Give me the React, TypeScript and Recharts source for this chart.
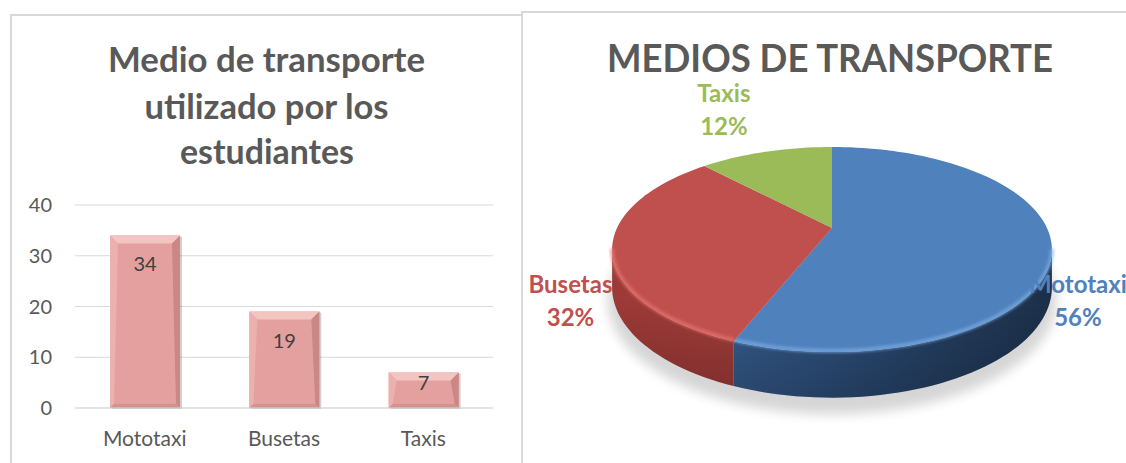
import { BarChart, Bar, XAxis, YAxis, CartesianGrid, LabelList, PieChart, Pie } from 'recharts'

const categories = ['Mototaxi', 'Busetas', 'Taxis']
const students = [34, 19, 7]
const shares = [56, 32, 12]
const yTicks = [0, 10, 20, 30, 40]
const sliceColors = ['#4F81BD', '#C0504D', '#9BBB59']
const wallColors = [
  ['#3f6aa0', '#2c4d78', '#1b2e47'],
  ['#9d3a37', '#a53f3c', '#b44845'],
  ['#7f9a47', '#7f9a47', '#7f9a47'],
]
const rimColors = ['#7eaee6', '#e87773', '#bcd884']

const barData = categories.map((name, i) => ({ name, value: students[i] }))
const pieData = categories.map((name, i) => ({ name, value: shares[i] }))

const FONT = 'Lato, "Open Sans", sans-serif'

// 3d look of the pie: perspective, squash, wall height
const Q = 0.21
const K = 0.456
const H = 36
const FRONT = (Math.asin(Q) * 180) / Math.PI

const BevelBar = (props: any) => {
  const { x, y, width: w, height: h } = props
  if (!h || h <= 0) return null
  const t = Math.min(8, h / 4)
  const s = 4
  return (
    <g>
      <rect x={x + 2} y={y + 1} width={w} height={h} fill="#6b5050" opacity={0.28} />
      <rect x={x} y={y} width={w} height={h} fill="#E4A09E" />
      <polygon points={`${x},${y} ${x + w},${y} ${x + w - t},${y + t} ${x + t},${y + t}`} fill="#F2C4C2" />
      <polygon points={`${x},${y} ${x + t},${y + t} ${x + s},${y + h - s} ${x},${y + h}`} fill="#EAB1AF" />
      <polygon points={`${x + w},${y} ${x + w},${y + h} ${x + w - s},${y + h - s} ${x + w - t},${y + t}`} fill="#C98785" />
      <polygon points={`${x},${y + h} ${x + w},${y + h} ${x + w - s},${y + h - s} ${x + s},${y + h - s}`} fill="#D39290" />
    </g>
  )
}

const BarValue = (props: any) => {
  const { x, y, width, height, value } = props
  const off = Math.min(29, height - 25.5)
  return (
    <text x={x + width / 2} y={y + off + 7} textAnchor="middle" fontFamily={FONT} fontSize={20} fill="#404040">
      {value}
    </text>
  )
}

function proj(cx: number, cy: number, R: number, deg: number, r: number, dz = 0) {
  const a = (deg * Math.PI) / 180
  const s = Math.sin(a)
  const w = 1 + Q * (r / R) * s
  return { x: cx + (r * Math.cos(a)) / w, y: cy - (K * r * s) / w + dz / w }
}

function arc(cx: number, cy: number, R: number, a0: number, a1: number, dz = 0) {
  const n = Math.max(2, Math.ceil(Math.abs(a1 - a0) / 2))
  const pts = []
  for (let i = 0; i <= n; i++) pts.push(proj(cx, cy, R, a0 + ((a1 - a0) * i) / n, R, dz))
  return pts
}

const toPath = (pts: { x: number; y: number }[], close = true) =>
  pts.map((p, i) => `${i ? 'L' : 'M'}${p.x.toFixed(2)},${p.y.toFixed(2)}`).join(' ') + (close ? ' Z' : '')

const renderSlice = (props: any) => {
  const { cx, cy, outerRadius: R, startAngle, endAngle, midAngle, percent, index, name } = props
  const color = sliceColors[index]
  const lo = Math.min(startAngle, endAngle)
  const hi = Math.max(startAngle, endAngle)

  const walls: [number, number][] = []
  for (let k = -2; k <= 1; k++) {
    const s = Math.max(lo, 180 + FRONT + 360 * k)
    const e = Math.min(hi, 360 - FRONT + 360 * k)
    if (e > s) walls.push([s, e])
  }

  // label sits outside the rim, pushed down by the wall on the front side
  const m = proj(cx, cy, R, midAngle, R)
  const ux = (m.x - cx) / Math.hypot(m.x - cx, m.y - cy)
  const uy = (m.y - cy) / Math.hypot(m.x - cx, m.y - cy)
  const lx = m.x + ux * 34 + uy * 14 - 9
  const ly = m.y + uy * 60 + 1.12 * H * (1 - Math.sin((midAngle * Math.PI) / 180)) + 1

  return (
    <g key={`slice-${index}`}>
      {index === 0 && (
        <g>
          <defs>
            <filter id="pieShadow" x="-20%" y="-20%" width="140%" height="140%">
              <feGaussianBlur stdDeviation="6" />
            </filter>
            <filter id="rimBlur" x="-10%" y="-10%" width="120%" height="120%">
              <feGaussianBlur stdDeviation="1.5" />
            </filter>
            {wallColors.map((c, i) => (
              <linearGradient key={i} id={`wall${i}`} gradientUnits="userSpaceOnUse" x1={cx - R * 1.05} x2={cx + R * 1.05} y1={0} y2={0}>
                <stop offset="0" stopColor={c[0]} />
                <stop offset="0.5" stopColor={c[1]} />
                <stop offset="1" stopColor={c[2]} />
              </linearGradient>
            ))}
            <linearGradient id="wallShade" x1="0" x2="0" y1="0" y2="1">
              <stop offset="0" stopColor="#ffffff" stopOpacity={0.12} />
              <stop offset="0.35" stopColor="#000000" stopOpacity={0} />
              <stop offset="1" stopColor="#000000" stopOpacity={0.2} />
            </linearGradient>
          </defs>
          <path d={toPath(arc(cx, cy + 4, R * 1.02, 0, 360, H + 8))} fill="#000" opacity={0.16} filter="url(#pieShadow)" />
        </g>
      )}
      {walls.map(([s, e], i) => {
        const pts = [...arc(cx, cy, R, s, e), ...arc(cx, cy, R, e, s, H)]
        return (
          <g key={i}>
            <path d={toPath(pts)} fill={`url(#wall${index})`} />
            <path d={toPath(pts)} fill="url(#wallShade)" />
          </g>
        )
      })}
      <path d={toPath([{ x: cx, y: cy }, ...arc(cx, cy, R, startAngle, endAngle)])} fill={color} />
      {walls.map(([s, e], i) => (
        <path
          key={`rim${i}`}
          d={toPath(arc(cx, cy, R, s, e, -1), false)}
          fill="none"
          stroke={rimColors[index]}
          strokeWidth={4}
          opacity={0.7}
          filter="url(#rimBlur)"
        />
      ))}
      <text textAnchor="middle" fontFamily={FONT} fontWeight={700} fontSize={24} fill={color}>
        <tspan x={lx} y={ly - 8}>{name}</tspan>
        <tspan x={lx} y={ly + 25}>{`${Math.round(percent * 100)}%`}</tspan>
      </text>
    </g>
  )
}

export default function App() {
  return (
    <div style={{ position: 'absolute', left: 0, top: 0, width: 1126, height: 463, background: '#fff', overflow: 'hidden' }}>
      <div style={{ position: 'absolute', left: 10, top: 14, width: 513, height: 500, border: '2px solid #d9d9d9', boxSizing: 'border-box' }} />
      <div style={{ position: 'absolute', left: 521, top: 11, width: 700, height: 500, border: '2px solid #d9d9d9', boxSizing: 'border-box' }} />

      <div style={{ position: 'absolute', left: 0, top: 0 }}>
        <BarChart width={522} height={463} data={barData} margin={{ top: 205, right: 29, bottom: 25, left: 35 }}>
          <CartesianGrid vertical={false} stroke="#d9d9d9" />
          <XAxis
            dataKey="name"
            interval={0}
            tickLine={false}
            axisLine={{ stroke: '#d9d9d9' }}
            tickSize={0}
            tickMargin={23}
            height={30}
            tick={{ fill: '#595959', fontSize: 21, fontFamily: FONT }}
          />
          <YAxis
            domain={[0, 40]}
            ticks={yTicks}
            axisLine={false}
            tickLine={false}
            tickSize={0}
            tickMargin={23}
            width={40}
            tick={{ fill: '#595959', fontSize: 20, fontFamily: FONT }}
          />
          <Bar dataKey="value" barSize={70} shape={<BevelBar />} isAnimationActive={false}>
            <LabelList dataKey="value" content={<BarValue />} />
          </Bar>
        </BarChart>
      </div>

      <div style={{ position: 'absolute', left: 522, top: 0 }}>
        <PieChart width={604} height={463} margin={{ top: 0, right: 0, bottom: 0, left: 0 }}>
          <Pie
            data={pieData}
            dataKey="value"
            nameKey="name"
            cx={310}
            cy={228}
            outerRadius={215}
            startAngle={90}
            endAngle={-270}
            fill="none"
            stroke="none"
            label={renderSlice}
            labelLine={false}
            isAnimationActive={false}
          />
        </PieChart>
      </div>

      <svg width={1126} height={463} style={{ position: 'absolute', left: 0, top: 0, pointerEvents: 'none' }}>
        <g fontFamily={FONT} fontWeight={700} fill="#595959" textAnchor="middle">
          <text x={266.5} y={72} fontSize={35} textLength={317} lengthAdjust="spacingAndGlyphs">Medio de transporte</text>
          <text x={266.5} y={119} fontSize={35} textLength={244} lengthAdjust="spacingAndGlyphs">utilizado por los</text>
          <text x={267} y={164} fontSize={35} textLength={174} lengthAdjust="spacingAndGlyphs">estudiantes</text>
          <text x={830} y={72} fontSize={37.5} textLength={446} lengthAdjust="spacingAndGlyphs">MEDIOS DE TRANSPORTE</text>
        </g>
      </svg>
    </div>
  )
}
